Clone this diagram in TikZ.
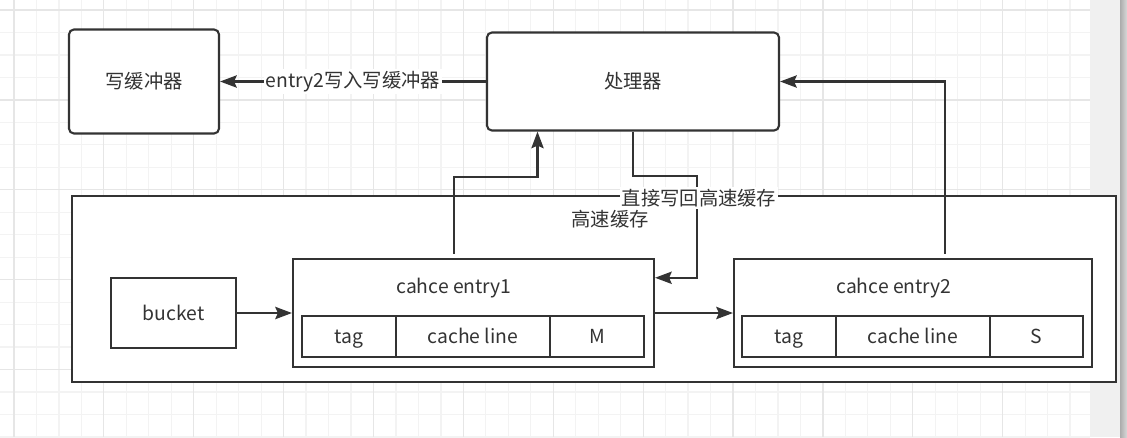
\documentclass[tikz,border=0pt]{standalone}
\usepackage{fontspec}
\setmainfont{Noto Sans CJK SC}
\usetikzlibrary{arrows.meta,positioning,calc}

\definecolor{ink}{HTML}{333333}
\definecolor{gridminor}{HTML}{F3F3F3}
\definecolor{gridmajor}{HTML}{E6E6E6}
\newcommand{\pxu}{0.02cm}

\begin{document}
\begin{tikzpicture}[
  x=\pxu, y=-\pxu,
  every node/.style={font=\fontsize{11}{13}\selectfont, text=ink},
  rbox/.style={draw=ink, line width=1.2pt, rounded corners=2.8pt, fill=white, inner sep=0pt},
  sbox/.style={draw=ink, line width=1.2pt, fill=white, inner sep=0pt},
  cell/.style={draw=ink, line width=1.2pt, inner sep=0pt, outer sep=0pt, minimum height=41*\pxu,
               text height=8pt, text depth=0pt},
  arrow/.style={draw=ink, line width=1.2pt, -{Stealth[length=9.5pt, width=7pt, inset=1.5pt]}},
  edgetext/.style={fill=white, inner sep=1pt},
]
\useasboundingbox (0,0) rectangle (1127,437);

% === Canvas grid ===
\foreach \k in {0,...,47}
  \draw[gridminor, line width=0.7pt] ({14+22.47*\k},0) -- ({14+22.47*\k},437);
\foreach \k in {0,...,19}
  \draw[gridminor, line width=0.7pt] (0,{10+22.47*\k}) -- (1090,{10+22.47*\k});
\foreach \k in {0,4,...,44}
  \draw[gridmajor, line width=0.7pt] ({14+22.47*\k},0) -- ({14+22.47*\k},437);
\foreach \k in {0,4,...,16}
  \draw[gridmajor, line width=0.7pt] (0,{10+22.47*\k}) -- (1090,{10+22.47*\k});
\fill[gray!12] (1090,0) rectangle (1120,437);
\shade[left color=gray!65, right color=gray!30] (1120,0) rectangle (1127,437);

% === Top row: buffer and processor ===
\node[rbox, minimum width=150*\pxu, minimum height=104*\pxu] (wbuf) at (144,81.5) {写缓冲器};
\node[rbox, minimum width=292*\pxu, minimum height=98*\pxu] (cpu) at (633,81.5) {处理器};

% === Cache container ===
\node[sbox, minimum width=1044*\pxu, minimum height=186*\pxu] (cache) at (594,289) {};
\node (cachename) at (610,219) {高速缓存};

\node[sbox, minimum width=125*\pxu, minimum height=70*\pxu] (bucket) at (173.5,313) {bucket};

% === Entry 1 ===
\node[sbox, minimum width=361*\pxu, minimum height=108*\pxu] (e1) at (473.5,313) {};
\node (e1title) at (454,288) {cahce entry1};
\node[cell, minimum width=94*\pxu] (e1tag) at (349,336.5) {tag};
\node[cell, minimum width=154*\pxu, right=0pt of e1tag] (e1line) {cache line};
\node[cell, minimum width=94*\pxu, right=0pt of e1line] (e1state) {M};

% === Entry 2 ===
\node[sbox, minimum width=358*\pxu, minimum height=108*\pxu] (e2) at (913,313) {};
\node (e2title) at (894,288) {cahce entry2};
\node[cell, minimum width=94*\pxu] (e2tag) at (789,336.5) {tag};
\node[cell, minimum width=154*\pxu, right=0pt of e2tag] (e2line) {cache line};
\node[cell, minimum width=93*\pxu, right=0pt of e2line] (e2state) {S};

% === Connectors ===
\draw[arrow] (cpu.west) -- node[edgetext] (wbtext) {entry2写入写缓冲器} (wbuf.east);

\coordinate (e1up) at (537.5,177);
\draw[arrow, shorten <=0.08cm] (e1title |- e1.north) |- (e1up) -- (e1up |- cpu.south);

\coordinate (wbturn) at (697,176);
\draw[arrow] (cpu.south) |- (wbturn) |- ($(e1.north east)!0.18!(e1.south east)$);

\coordinate (e2up) at (945,81.5);
\draw[arrow, shorten <=0.08cm] (e2up |- e2.north) |- (cpu.east);

\draw[arrow] (bucket) -- (e1);
\draw[arrow] (e1) -- (e2);

\node[edgetext] (wbnote) at (699,198) {直接写回高速缓存};

\end{tikzpicture}
\end{document}
